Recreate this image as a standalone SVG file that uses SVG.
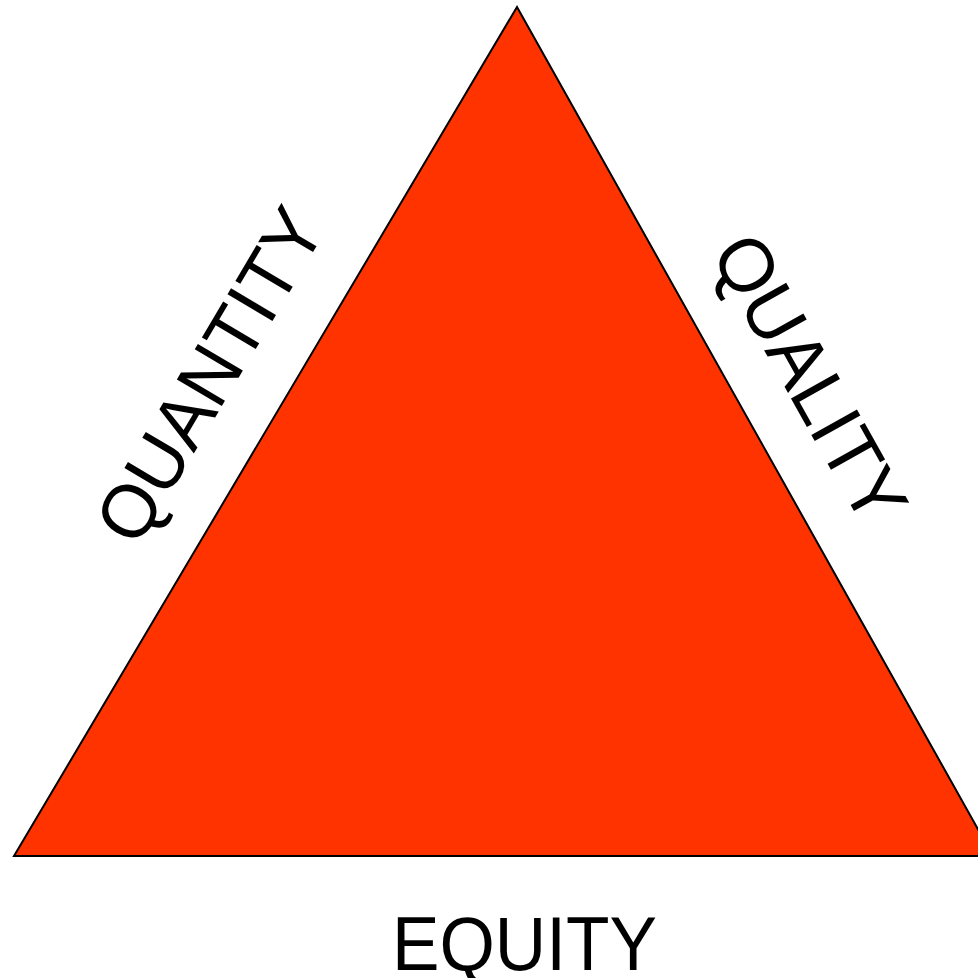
<svg xmlns="http://www.w3.org/2000/svg" width="978" height="978" viewBox="0 0 978 978">
<style>
.lbl{font-family:"Liberation Sans",Arial,Helvetica,sans-serif;font-size:76px;fill:#000;text-anchor:start}
</style>
<rect width="978" height="978" fill="#fff"/>
<g id="triangle">
<polygon points="517,7 14,856 993,856" fill="#ff3300" stroke="#000" stroke-width="2" stroke-linejoin="miter"/>
</g>
<g id="label-quantity">
<text class="lbl" transform="translate(137.3,548.9) rotate(-59.35)" textLength="373" lengthAdjust="spacingAndGlyphs">QUANTITY</text>
</g>
<g id="label-quality">
<text class="lbl" transform="translate(709.7,253) rotate(60.8)" textLength="317" lengthAdjust="spacingAndGlyphs">QUALITY</text>
</g>
<g id="label-equity">
<text class="lbl" x="392" y="970" textLength="265" lengthAdjust="spacingAndGlyphs">EQUITY</text>
</g>
</svg>
